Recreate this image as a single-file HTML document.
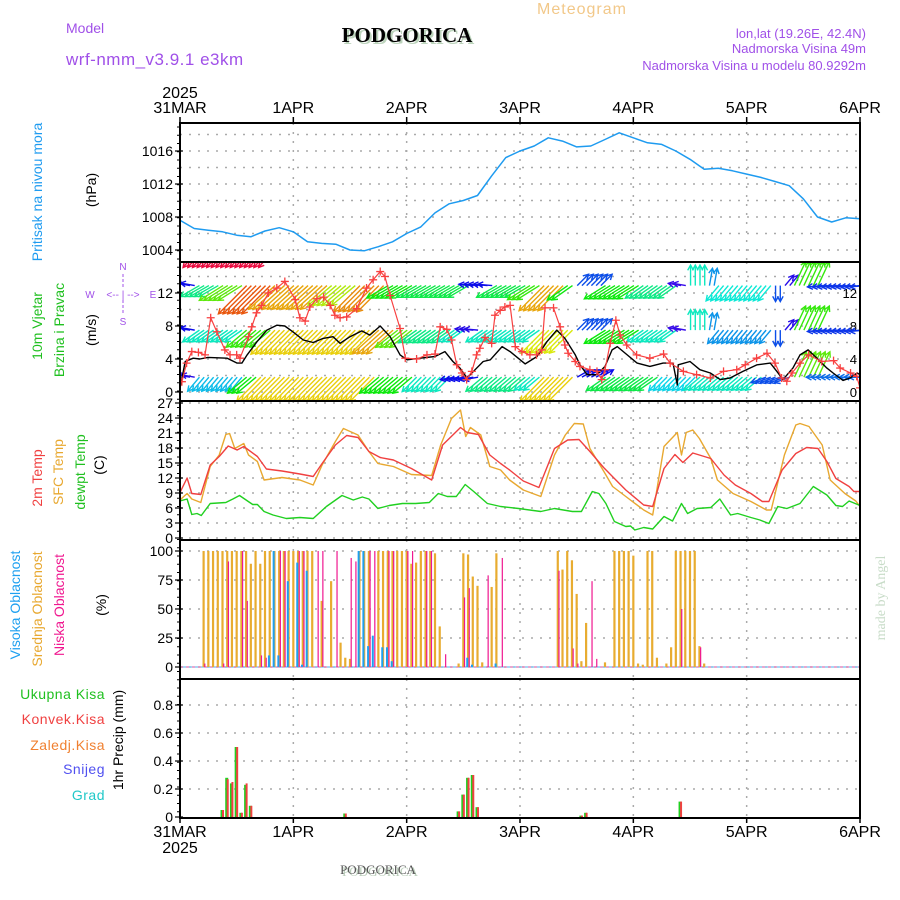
<!DOCTYPE html>
<html><head><meta charset="utf-8"><style>
html,body{margin:0;padding:0;background:#fff;}
svg{display:block;font-family:"Liberation Sans",sans-serif;}
</style></head><body>
<svg id="chart" width="900" height="900" viewBox="0 0 900 900">
<defs>
<clipPath id="cp1"><rect x="180" y="123" width="680" height="139"/></clipPath>
<clipPath id="cp2"><rect x="180" y="262" width="680" height="139"/></clipPath>
<clipPath id="cp3"><rect x="180" y="401" width="680" height="139"/></clipPath>
<clipPath id="cp4"><rect x="180" y="540" width="680" height="139"/></clipPath>
<clipPath id="cp5"><rect x="180" y="679" width="680" height="139"/></clipPath>
</defs>
<g>
<text x="582" y="14" font-size="16" fill="#f2c889" text-anchor="middle" letter-spacing="1">Meteogram</text>
<text x="66" y="33" font-size="14" fill="#a050e8">Model</text>
<text x="66" y="65" font-size="17" fill="#a050e8" letter-spacing="0.5">wrf-nmm_v3.9.1 e3km</text>
<text x="409" y="44" font-size="21" font-weight="bold" font-family="Liberation Serif,serif" fill="#bcd4bc" text-anchor="middle">PODGORICA</text>
<text x="407" y="42" font-size="21" font-weight="bold" font-family="Liberation Serif,serif" fill="#000" text-anchor="middle">PODGORICA</text>
<text x="866" y="38" font-size="13" fill="#a050e8" text-anchor="end">lon,lat (19.26E, 42.4N)</text>
<text x="866" y="53" font-size="13" fill="#a050e8" text-anchor="end">Nadmorska Visina 49m</text>
<text x="866" y="70" font-size="13" fill="#a050e8" text-anchor="end">Nadmorska Visina u modelu 80.9292m</text>
</g>
<g id="axes-top"></g>
<g id="panels"></g>
<g font-size="14">
<text transform="translate(42,192) rotate(-90)" fill="#1e9bf0" text-anchor="middle">Pritisak na nivou mora</text>
<text transform="translate(96,190) rotate(-90)" fill="#000" text-anchor="middle">(hPa)</text>
<text transform="translate(42,326) rotate(-90)" fill="#20c020" text-anchor="middle">10m Vjetar</text>
<text transform="translate(64,330) rotate(-90)" fill="#20c020" text-anchor="middle">Brzina i Pravac</text>
<text transform="translate(96,330) rotate(-90)" fill="#000" text-anchor="middle">(m/s)</text>
<text transform="translate(42,478) rotate(-90)" fill="#f04040" text-anchor="middle">2m Temp</text>
<text transform="translate(63,472) rotate(-90)" fill="#e8a830" text-anchor="middle">SFC Temp</text>
<text transform="translate(85,472) rotate(-90)" fill="#20c020" text-anchor="middle">dewpt Temp</text>
<text transform="translate(104,465) rotate(-90)" fill="#000" text-anchor="middle">(C)</text>
<text transform="translate(20,605) rotate(-90)" fill="#1ea0f0" text-anchor="middle">Visoka Oblacnost</text>
<text transform="translate(42,609) rotate(-90)" fill="#e8a830" text-anchor="middle">Srednja Oblacnost</text>
<text transform="translate(64,605) rotate(-90)" fill="#f01890" text-anchor="middle">Niska Oblacnost</text>
<text transform="translate(106,605) rotate(-90)" fill="#000" text-anchor="middle">(%)</text>
<text x="105" y="699" fill="#20c020" text-anchor="end" letter-spacing="0.5">Ukupna  Kisa</text>
<text x="105" y="724" fill="#f04040" text-anchor="end" letter-spacing="0.5">Konvek.Kisa</text>
<text x="105" y="750" fill="#f08030" text-anchor="end" letter-spacing="0.5">Zaledj.Kisa</text>
<text x="105" y="774" fill="#5050f0" text-anchor="end" letter-spacing="0.5">Snijeg</text>
<text x="105" y="800" fill="#20c8c8" text-anchor="end" letter-spacing="0.5">Grad</text>
<text transform="translate(123,740) rotate(-90)" fill="#000" text-anchor="middle">1hr Precip (mm)</text>
</g>
<g fill="#a050e8" font-size="10">
<text x="123" y="270" text-anchor="middle">N</text>
<text x="90" y="298" text-anchor="middle">W</text>
<text x="153" y="298" text-anchor="middle">E</text>
<text x="123" y="325" text-anchor="middle">S</text>
<text x="123" y="298" text-anchor="middle" font-size="10">&lt;-- | --&gt;</text>
<line x1="123" y1="274" x2="123" y2="288" stroke="#a050e8" stroke-dasharray="3,2"/>
<line x1="123" y1="300" x2="123" y2="315" stroke="#a050e8" stroke-dasharray="3,2"/>
</g>
<text transform="translate(885,598) rotate(-90)" font-family="Liberation Serif,serif" font-size="14" fill="#c8dcc8" text-anchor="middle">made by Angel</text>
<text x="380" y="876" font-size="13" font-family="Liberation Serif,serif" fill="#b8ccb8" text-anchor="middle">PODGORICA</text>
<text x="378" y="874" font-size="13" font-family="Liberation Serif,serif" fill="#555" text-anchor="middle">PODGORICA</text>
</svg>
<script>
// ---------- DATA ----------
const dayLabels = ["31MAR","1APR","2APR","3APR","4APR","5APR","6APR"];
const yearLabel = "2025";
// pressure (3-hourly)
const presHours = [0,3,6,9,12,15,18,21,24,27,30,33,36,39,42,45,48,51,54,57,60,63,66,69,72,75,78,81,84,87,90,93,96,99,102,105,108,111,114,117,120,123,126,129,132,135,138,141,144];
const presVals = [1007.6,1006.6,1006.4,1006.2,1005.8,1005.6,1006.3,1006.7,1006.2,1005.0,1004.8,1004.7,1004.0,1003.9,1004.4,1005.0,1006.0,1006.8,1008.5,1009.6,1010.0,1010.6,1013.0,1015.2,1016.0,1016.6,1017.6,1017.2,1016.5,1016.6,1017.4,1018.2,1017.6,1017.0,1016.8,1016.0,1015.0,1013.8,1013.9,1013.6,1013.2,1012.8,1012.3,1011.8,1010.2,1008.0,1007.4,1007.9,1007.8];
const presTicks = [1004,1008,1012,1016];
// wind speed (black) and gusts (red)
const spdHours = [0,1.1,2.8,4.2,5.9,10,12.1,13.1,14.2,16.3,18.4,20.5,22.2,23.9,26.1,28.2,30.3,32.4,33.9,36,38.5,40.2,42.4,44.5,46.6,48.1,50.8,54,56.1,57.8,59.3,60.8,62.5,64.2,65.7,68.2,69.9,73.1,75.6,77.7,79.8,81.5,83.7,84.7,86.2,88.3,90,91.5,92.6,94.7,96.8,99.5,102.3,104.4,105.3,105.5,108,110.1,112.3,114.4,116.5,119.2,122.2,125,126.4,127.7,129.8,131.3,133,134.9,137,138.3,140.4,141.9,143.4,144];
const spdVals = [0.45,3.7,4.1,4.0,4.2,4.1,3.5,3.5,4.5,6.1,7.5,8.1,8.0,7.3,6.3,6.0,6.5,6.7,5.9,6.7,7.4,6.9,8.0,6.7,4.5,3.9,4.1,4.3,4.9,3.7,2.9,1.7,2.7,3.7,3.9,5.5,4.9,3.4,4.3,6.1,7.5,6.5,4.5,3.3,2.1,2.1,3.1,5.1,5.5,4.5,3.5,3.1,3.5,3.5,0.85,3.3,3.7,2.7,2.3,1.5,1.7,2.5,3.3,3.5,2.5,1.5,2.9,4.5,5.1,4.1,2.9,2.3,1.4,1.7,2.3,2.1];
const gustHours = [0.4,1.4,2.5,3.9,5.3,6.5,7.8,9.5,10.6,12,12.7,14.5,15.2,16.2,17.3,18.7,20.5,22.2,24.4,25.4,26.5,27.5,29,30.4,31.8,32.8,33.9,35.3,37.4,39.5,40.9,42.4,43.4,44.5,46.6,47.7,50.1,52.3,54,55.1,56.5,57.5,58.6,59.7,60.7,61.8,62.8,63.5,64.6,66,66.7,67.8,68.8,69.9,71,72.4,74.1,75.5,76.6,77.3,79.1,80.5,81.5,82.2,83.7,84.7,86.8,88.3,89.3,90,91.1,92.3,93.2,94.6,96.7,99.5,102.4,103.8,106.6,109.4,112.3,115.1,117.9,119.7,122.1,124.3,126,127.4,128.5,129.6,131.3,133.1,135.9,138.4,139.8,142,143.3,144];
const gustVals = [1.25,3.5,4.9,4.8,4.5,9.0,7.3,5.1,4.5,4.5,4.1,6.7,7.9,9.6,10.5,12.0,12.6,13.4,11.2,9.0,8.6,10.3,11.3,11.5,10.5,9.3,9.0,9.1,10.1,12.6,13.6,14.6,14.0,11.7,7.7,4.1,4.0,4.5,4.6,7.9,7.6,6.3,3.3,2.3,1.5,2.5,4.5,5.3,6.6,5.9,9.3,9.9,10.3,10.5,5.5,4.9,4.5,4.5,5.1,10.2,10.2,7.9,5.7,4.7,3.7,3.1,2.7,2.5,1.5,2.7,5.9,8.7,6.9,5.7,4.5,4.1,4.6,3.5,2.5,2.1,1.7,2.5,2.7,3.3,4.1,4.7,3.5,1.7,1.3,2.3,3.5,4.5,3.7,3.8,2.9,2.3,1.9,0.5];
const windTicks = [0,4,8,12];
// wind arrow bands: [startHour, endHour, directionFrom(deg), speed(m/s)]
const bandLevels = [19.5, 12.9, 7.5, 1.8];
const bandA = [[5,22,40,12.5],[62,73,45,10.5]];
const bandB = [[0,2,100,1.5],[2,7,60,4],[7,12,58,6],[12,18,45,10],[18,30,48,8.5],[30,36,50,7],[36,42,45,9],[42,48,60,5],[48,60,60,4.5],[60,65,95,1.5],[65,72,60,4.5],[72,75,58,5.5],[75,80,45,8.5],[80,82,55,5],[82,88,225,2],[88,96,58,5],[96,104,55,4],[104,106,100,1],[106,110,180,3.5],[110,112,190,2.5],[112,124,40,3.3],[124,126,0,2],[126,128,220,1.2],[128,134,205,5.5],[134,144,85,1.8]];
const bandC = [[0,2,100,1.5],[2,12,55,3.5],[12,18,50,5.5],[18,40,45,8],[40,44,48,8.5],[44,48,52,6],[48,56,55,4],[56,59,55,3.5],[59,62,95,1.2],[62,75,55,3.5],[75,82,45,7.5],[82,88,225,2],[88,96,58,5],[96,104,55,3.5],[104,106,100,1],[106,110,180,3.5],[110,112,190,2.5],[112,124,40,2.5],[124,126,0,2],[126,128,220,1.2],[128,134,205,5.5],[134,144,85,1.8]];
const bandD = [[0,2,100,1.2],[2,12,40,2.8],[12,15,50,5],[15,40,45,8],[40,48,50,5],[48,56,45,3.5],[56,62,80,1.5],[62,72,50,4],[72,75,50,3.5],[75,82,45,8],[82,88,240,1.5],[88,100,55,4.5],[100,108,45,3],[108,122,50,3.5],[122,128,70,2],[128,134,205,6],[134,144,90,2.2]];
// temperatures
const t2Hours = [0,1.5,2.5,4.4,6.4,8.3,10.2,12.1,13.5,16.4,18.3,21.6,25.4,28.2,30.1,32.9,35.3,37.7,40,42.4,45.2,49,53.3,55.6,59.4,60.8,63.2,65.6,67.9,69.8,72.7,76,79.3,82.1,84.5,86.8,89.7,92,94.4,98.2,100.1,102.5,104.8,106.5,108.6,112.4,115.2,117.6,120.9,123.3,124.7,127.5,130.4,132.7,135.1,137,138.9,141.7,142.7,144];
const t2Vals = [9.1,12,8.9,8.7,14.6,16.3,18.4,17.6,18.3,16.3,13.8,13.4,12.8,12.3,14.9,18.6,20.5,20.1,17.3,16.1,15.6,13.9,11.6,18.6,22.1,21.1,20.7,16.6,14.9,13.6,11.4,10.1,17.9,19.6,19.7,17.3,14.1,11.9,9.6,6.6,6.3,13.9,16.7,15.1,17,15.9,12.6,10.6,8.9,7.3,7.3,13.6,16.9,18.1,17.9,15.3,11.9,10.3,9.3,9.3];
const sfcHours = [0,1.5,2.5,4.4,6.4,8.3,9.7,10.5,11.6,13.5,14.5,16.4,17.8,21.6,25.4,28.2,30.1,32.9,34.6,37.7,40,41.9,45.2,49,53.3,55.2,57.5,59.4,60.5,61.5,63.7,65.6,67.9,69.8,72.7,76.4,79.3,81.6,83.5,85.4,86.8,89.7,91.6,94.4,98.2,100.1,102.5,105.3,106.2,107.2,108.6,110,112.4,113.8,117.1,120.9,124.2,125.2,128,130.4,131.3,133.2,136,137.7,140.8,143.1,144];
const sfcVals = [7.6,8.9,7.8,7.1,14.3,16.6,20.7,20.9,17.9,18.9,16.6,15.3,11.6,12.1,11.6,10.6,14.6,19.3,21.9,20.6,17.3,14.9,14.3,12.7,12.5,18.6,23.9,25.6,20.3,22.1,20.6,14.3,13.6,11.6,9.6,8.3,16.6,20.6,22.9,22.8,17.9,13.4,10.3,8.3,5.6,4.6,18.3,21.1,16.6,21.1,21.6,19.9,15.9,11.6,8.9,7.3,5.6,5.6,16.6,22.6,22.9,22.3,18.6,11.6,8.9,7.4,6.3];
const dewHours = [0,1.5,2.5,3.6,4.5,6.4,9.7,11.2,12.6,15.4,16.4,17.8,19.7,22.5,25.4,28.2,31,34.3,36.7,38.6,40,41.9,44.3,47.1,49.9,52.8,54.7,56.6,58.5,60.4,62.2,65.1,67.9,71.7,76.4,79.3,83.1,85,87.3,88.7,90.2,92,94.4,95.4,96.3,98.2,100.1,102.5,104.3,106.2,107.5,109.5,112.4,114.3,116.6,118.1,120.9,122.8,124.7,126.6,128.5,131.3,134.1,137,138.9,140.3,141.7,144];
const dewVals = [7.4,7.8,4.7,4.9,4.5,6.9,7.1,7.8,8.5,6.7,6.7,5.3,4.6,3.9,4.1,3.9,6.3,8.5,7.6,8.2,7.8,5.9,6.5,6.9,6.9,7.1,8.9,8.3,8.3,10.7,9.3,6.9,6.3,5.9,5.3,5.9,5.3,5.3,9.3,8.9,6.9,3.3,2.3,2.4,1.6,2.1,1.8,4.3,3.4,6.9,4.9,5.9,6.1,7.8,4.6,4.9,4.1,3.6,2.9,6.3,5.9,6.9,10.3,8.6,6.5,6.3,7.4,6.5];
const tempTicks = [0,3,6,9,12,15,18,21,24,27];
// clouds: hour -> percent (only non-zero hours)
const midHours = [5,6,7,8,9,10,11,12,13,14,15,16,17,18,19,20,21,22,23,24,25,26,27,28,30,32,34,35,36,38,39,40,42,43,44,45,46,47,48,49,50,51,52,53,54,55,59,60,61,62,63,64,66,67,80,81,82,83,84,85,86,90,92,93,94,95,96,97,98,99,100,101,103,104,105,106,107,108,109,110,111];
const midVals = [100,100,100,100,100,100,100,100,100,100,89,100,89,100,100,100,100,100,100,100,100,100,100,100,57,74,21,8,7,100,100,100,100,100,100,100,100,100,100,89,90,100,100,100,98,35,3,98,97,78,70,4,69,98,100,84,100,92,63,5,38,4,100,100,100,100,96,3,2,100,100,8,3,17,100,100,100,100,100,18,3];
const lowHours = [5,9,10,13,14,17,18,21,22,25,26,29,30,33,36,37,40,41,44,45,48,49,52,53,56,60,61,65,68,80,83,84,87,88,106,110];
const lowVals = [3,3,91,100,57,10,8,100,100,100,100,100,100,100,94,91,100,100,100,100,100,100,100,100,11,60,68,79,94,83,16,3,74,7,50,17];
const highHours = [19,20,21,23,25,26,27,38,39,40,41,43,44,45,61,62,67];
const highVals = [10,100,10,74,90,2,83,100,100,18,27,17,17,5,8,2,3];
const cloudTicks = [0,25,50,75,100];
// precipitation (mm/h)
const rainHours = [9,10,11,12,13,14,15,35,59,60,61,62,63,85,86,106];
const rainTotal = [0.05,0.28,0.24,0.5,0.03,0.23,0.08,0.025,0.04,0.16,0.28,0.3,0.07,0.01,0.03,0.11];
const rainConv = [0.05,0.27,0.25,0.5,0.03,0.24,0.08,0.025,0.04,0.16,0.28,0.3,0.07,0.01,0.03,0.11];
const precipTicks = [0,0.2,0.4,0.6,0.8];

// ---------- SCALES ----------
const X0 = 180, X1 = 860;
function X(h){ return X0 + h*(X1-X0)/144; }
function YP(p){ return 250 - (p-1004)*8.25; }
function YW(v){ return 392 - v*8.25; }
function YT(t){ return 538 - t*5; }
function YC(c){ return 667 - c*1.16; }
function YR(r){ return 817 - r*140; }

const NS = "http://www.w3.org/2000/svg";
const svg = document.getElementById('chart');
const panels = document.getElementById('panels');
function el(tag, attrs, parent){
  const e = document.createElementNS(NS, tag);
  for (const k in attrs) e.setAttribute(k, attrs[k]);
  (parent||panels).appendChild(e);
  return e;
}
function txt(x,y,s,size,anchor,parent,fill){
  const t = el('text',{x:x,y:y,'font-size':size,'text-anchor':anchor,fill:fill||'#000'},parent);
  t.textContent = s; return t;
}

const panelDefs = [
 {top:123,bot:262,name:'pressure-panel'},
 {top:262,bot:401,name:'wind-panel'},
 {top:401,bot:540,name:'temperature-panel'},
 {top:540,bot:679,name:'cloud-panel'},
 {top:679,bot:818,name:'precip-panel'}
];
const gridG = el('g',{});


function hgrid(y){
  el('line',{x1:X0,x2:X1,y1:y,y2:y,stroke:'#aaa','stroke-width':1.5,'stroke-dasharray':'2,7'},gridG);
}
for (let d=1; d<6; d++){
  panelDefs.forEach(p=>{
    el('line',{x1:X(d*24),x2:X(d*24),y1:p.top,y2:p.bot,stroke:'#aaa','stroke-width':1.5,'stroke-dasharray':'2,7'},gridG);
  });
}
for (let p=1004; p<=1018; p+=2) hgrid(YP(p));
for (let v=0; v<=14; v+=2) hgrid(YW(v));
tempTicks.forEach(t=>hgrid(YT(t)));
cloudTicks.forEach(c=>hgrid(YC(c)));
precipTicks.slice(1).forEach(r=>hgrid(YR(r)));

const tickG = el('g',{'font-size':14});


function ytick(y,label){
  el('line',{x1:X0-5,x2:X0+3,y1:y,y2:y,stroke:'#000','stroke-width':1.2},tickG);
  if (label!==null) txt(X0-7,y+5,label,14,'end',tickG);
}
presTicks.forEach(p=>ytick(YP(p),String(p)));
windTicks.forEach(v=>{ ytick(YW(v),String(v)); txt(X1-3,YW(v)+5,String(v),13,'end',tickG); });
tempTicks.forEach(t=>ytick(YT(t),String(t)));
cloudTicks.forEach(c=>ytick(YC(c),String(c)));
precipTicks.forEach(r=>ytick(YR(r), r===0?'0':r.toFixed(1)));
for (let y=127;y<818;y+=8.25){ el('line',{x1:X0-3,x2:X0,y1:y,y2:y,stroke:'#000','stroke-width':1},tickG); }

const topG = document.getElementById('axes-top');
dayLabels.forEach((s,i)=>{
  const x = X(i*24);
  const a = txt(x,113,s,16,'middle',topG);
  
  
  el('line',{x1:x,x2:x,y1:117,y2:123,stroke:'#000','stroke-width':1.5},topG);
  const b = txt(x,837,s,16,'middle',topG);
  
  
  el('line',{x1:x,x2:x,y1:818,y2:823,stroke:'#000','stroke-width':1.5},topG);
});
txt(X(0),98,yearLabel,16,'middle',topG);
txt(X(0),853,yearLabel,16,'middle',topG);

function polyline(hours, vals, yf, color, width, clip, name){
  let d = '';
  hours.forEach((h,i)=>{ d += (i?'L':'M') + X(h).toFixed(1) + ',' + yf(vals[i]).toFixed(1); });
  const p = el('path',{d:d,fill:'none',stroke:color,'stroke-width':width,'clip-path':'url(#'+clip+')','stroke-linejoin':'round'});
  
  
  return p;
}

polyline(presHours, presVals, YP, '#1e9bf0', 1.5, 'cp1', 'pressure-line');

function speedColor(s){
  const stops = [[0,275],[1.5,240],[3,185],[5,120],[7,75],[8.5,42],[10,20],[12,355],[14,320]];
  let hue = stops[stops.length-1][1];
  for (let i=0;i<stops.length-1;i++){
    if (s>=stops[i][0] && s<=stops[i+1][0]){
      const f=(s-stops[i][0])/(stops[i+1][0]-stops[i][0]);
      let a=stops[i][1], b=stops[i+1][1];
      if (b-a>180) a+=360;
      hue = (a+(b-a)*f+360)%360; break;
    }
  }
  if (s<stops[0][0]) hue=stops[0][1];
  return 'hsl('+hue.toFixed(0)+',90%,48%)';
}
const windG = el('g',{'clip-path':'url(#cp2)'});


[bandA,bandB,bandC,bandD].forEach((band,bi)=>{
  const y0 = YW(bandLevels[bi]);
  band.forEach(seg=>{
    for (let h=seg[0]; h<seg[1]; h++){
      const th = (seg[2]+180)*Math.PI/180;
      const dx = Math.sin(th), dy = -Math.cos(th);
      const L = 10 + 3*seg[3];
      const x0 = X(h)+10, x1 = x0+dx*L, y1 = y0+dy*L;
      const c = speedColor(seg[3]);
      const g = el('g',{stroke:c,'stroke-width':1.4,fill:'none'},windG);
      
      
      el('line',{x1:x0,y1:y0,x2:x1,y2:y1},g);
      const a1 = th+Math.PI-0.5, a2 = th+Math.PI+0.5;
      el('path',{d:'M'+(x1+Math.sin(a1)*6)+','+(y1-Math.cos(a1)*6)+'L'+x1+','+y1+'L'+(x1+Math.sin(a2)*6)+','+(y1-Math.cos(a2)*6)},g);
    }
  });
});
polyline(spdHours, spdVals, YW, '#000', 1.4, 'cp2', 'wind-speed-line');
polyline(gustHours, gustVals, YW, '#f84040', 1.2, 'cp2', 'wind-gust-line');
const gustG = el('g',{stroke:'#f84040','stroke-width':1.3,'clip-path':'url(#cp2)'});


gustHours.forEach((h,i)=>{
  const x=X(h), y=YW(gustVals[i]);
  const m = el('path',{d:'M'+(x-4)+','+y+'H'+(x+4)+'M'+x+','+(y-4)+'V'+(y+4)},gustG);
  
  
});

polyline(sfcHours, sfcVals, YT, '#e8a830', 1.4, 'cp3', 'sfc-temp-line');
polyline(t2Hours, t2Vals, YT, '#f04040', 1.4, 'cp3', 'temp-2m-line');
polyline(dewHours, dewVals, YT, '#20d020', 1.4, 'cp3', 'dewpoint-line');

const cloudG = el('g',{'clip-path':'url(#cp4)'});


el('line',{x1:X0,x2:X1,y1:YC(0),y2:YC(0),stroke:'#e08cc0','stroke-width':1.5,'stroke-dasharray':'3,3'},cloudG);
el('line',{x1:X0+3,x2:X1,y1:YC(0),y2:YC(0),stroke:'#8cc8f0','stroke-width':1.5,'stroke-dasharray':'3,3'},cloudG);
function cloudBars(hours, vals, color, w, off, name){
  hours.forEach((h,i)=>{
    const y=YC(vals[i]);
    const r = el('rect',{x:X(h)+off,y:y,width:w,height:YC(0)-y,fill:color},cloudG);
    
    
  });
}
cloudBars(midHours, midVals, '#e8ac30', 2.2, -1.1, 'mid-cloud-bar');
cloudBars(highHours, highVals, '#1ea0f0', 2, -1.8, 'high-cloud-bar');
cloudBars(lowHours, lowVals, '#f01890', 1.2, 0.6, 'low-cloud-bar');

const precG = el('g',{'clip-path':'url(#cp5)'});


rainHours.forEach((h,i)=>{
  const yt=YR(rainTotal[i]), yc=YR(rainConv[i]);
  const g1 = el('rect',{x:X(h)-2,y:yt,width:3,height:YR(0)-yt,fill:'#20d020'},precG);
  
  
  const g2 = el('rect',{x:X(h)-0.5,y:yc,width:2,height:YR(0)-yc,fill:'#f04040'},precG);
  
  
});

const frameG = el('g',{fill:'none',stroke:'#000','stroke-width':2});


panelDefs.forEach(p=>{
  const r = el('rect',{x:X0,y:p.top,width:X1-X0,height:p.bot-p.top},frameG);
  
  
});
</script>
</body></html>
